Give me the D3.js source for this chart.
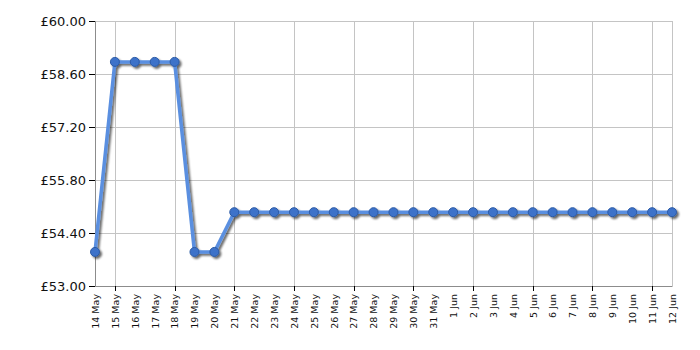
<!DOCTYPE html>
<html>
<head>
<meta charset="utf-8">
<script src="https://cdn.jsdelivr.net/npm/d3@7"></script>
<style>
  body { margin: 0; background: #fff; }
  text { font-family: Verdana, "DejaVu Sans", sans-serif; }
</style>
</head>
<body>
<div id="chart"></div>
<script>
var dates = ["14 May", "15 May", "16 May", "17 May", "18 May", "19 May", "20 May", "21 May",
  "22 May", "23 May", "24 May", "25 May", "26 May", "27 May", "28 May", "29 May", "30 May",
  "31 May", "1 Jun", "2 Jun", "3 Jun", "4 Jun", "5 Jun", "6 Jun", "7 Jun", "8 Jun", "9 Jun",
  "10 Jun", "11 Jun", "12 Jun"];
var prices = [53.90, 58.92, 58.92, 58.92, 58.92, 53.90, 53.90, 54.95,
  54.95, 54.95, 54.95, 54.95, 54.95, 54.95, 54.95, 54.95, 54.95,
  54.95, 54.95, 54.95, 54.95, 54.95, 54.95, 54.95, 54.95, 54.95, 54.95,
  54.95, 54.95, 54.95];
var yTicks = [53.00, 54.40, 55.80, 57.20, 58.60, 60.00];
// every third day gets a tick and a grid line
var gridDates = dates.filter(function(d, i) { return i % 3 === 1; });

var svgWidth = 700;
var svgHeight = 350;
var margin = { top: 21, right: 28, bottom: 64, left: 95 };
var width = svgWidth - margin.left - margin.right;
var height = svgHeight - margin.top - margin.bottom;

var svg = d3.select("#chart")
  .append("svg")
  .attr("width", svgWidth)
  .attr("height", svgHeight);

var defs = svg.append("defs");
var filter = defs.append("filter")
  .attr("id", "shadow")
  .attr("x", "-10%").attr("y", "-10%")
  .attr("width", "120%").attr("height", "120%");
filter.append("feOffset").attr("in", "SourceAlpha").attr("dx", 2).attr("dy", 2).attr("result", "off");
filter.append("feGaussianBlur").attr("in", "off").attr("stdDeviation", 0.9).attr("result", "blur");
filter.append("feComponentTransfer").attr("in", "blur").attr("result", "shade")
  .append("feFuncA").attr("type", "linear").attr("slope", 0.6);
var merge = filter.append("feMerge");
merge.append("feMergeNode").attr("in", "shade");
merge.append("feMergeNode").attr("in", "SourceGraphic");

var chartGroup = svg.append("g")
  .attr("transform", `translate(${margin.left}, ${margin.top})`);

var xScale = d3.scalePoint()
  .domain(dates)
  .range([0, width]);

var yScale = d3.scaleLinear()
  .domain([53, 60])
  .range([height, 0]);

// grid
chartGroup.append("g")
  .selectAll("line")
  .data(yTicks)
  .enter()
  .append("line")
  .attr("x1", 0)
  .attr("x2", width)
  .attr("y1", d => yScale(d) + 0.5)
  .attr("y2", d => yScale(d) + 0.5)
  .attr("stroke", "#c4c4c4");

chartGroup.append("g")
  .selectAll("line")
  .data(gridDates.concat([dates[dates.length - 1]]))
  .enter()
  .append("line")
  .attr("x1", d => Math.round(xScale(d)) + 0.5)
  .attr("x2", d => Math.round(xScale(d)) + 0.5)
  .attr("y1", 0)
  .attr("y2", height)
  .attr("stroke", "#c4c4c4");

// axes
var leftAxis = d3.axisLeft(yScale)
  .tickValues(yTicks)
  .tickSize(6)
  .tickFormat(d => "£" + d3.format(".2f")(d));

var yAxis = chartGroup.append("g")
  .call(leftAxis);
yAxis.select(".domain").attr("stroke", "#8c8c8c");
yAxis.selectAll(".tick line").attr("stroke", "#000");
yAxis.selectAll(".tick text")
  .attr("font-size", 13)
  .attr("fill", "#111")
  .attr("font-family", "Verdana, 'DejaVu Sans', sans-serif");

var bottomAxis = d3.axisBottom(xScale)
  .tickSize(0)
  .tickPadding(0);

var xAxis = chartGroup.append("g")
  .attr("transform", `translate(0, ${height})`)
  .call(bottomAxis);
xAxis.select(".domain").attr("stroke", "#8c8c8c");
xAxis.selectAll(".tick text")
  .attr("font-size", 9.5)
  .attr("fill", "#111")
  .attr("font-family", "Verdana, 'DejaVu Sans', sans-serif")
  .attr("text-anchor", "end")
  .attr("dy", "0.35em")
  .attr("transform", "translate(0, 8) rotate(-90)")
  .attr("x", 0)
  .attr("y", 0);

xAxis.append("g")
  .selectAll("line")
  .data(gridDates)
  .enter()
  .append("line")
  .attr("x1", d => Math.round(xScale(d)) + 0.5)
  .attr("x2", d => Math.round(xScale(d)) + 0.5)
  .attr("y1", 0)
  .attr("y2", 5)
  .attr("stroke", "#000");

// price line
var series = dates.map((d, i) => ({ date: d, price: prices[i] }));

var line = d3.line()
  .x(d => xScale(d.date))
  .y(d => yScale(d.price));

var seriesGroup = chartGroup.append("g")
  .attr("filter", "url(#shadow)");

seriesGroup.append("path")
  .datum(series)
  .attr("d", line)
  .attr("fill", "none")
  .attr("stroke", "#5a8fe0")
  .attr("stroke-width", 3.5)
  .attr("stroke-linejoin", "round");

seriesGroup.selectAll("circle")
  .data(series)
  .enter()
  .append("circle")
  .attr("cx", d => xScale(d.date))
  .attr("cy", d => yScale(d.price))
  .attr("r", 4.5)
  .attr("fill", "#3d72c9")
  .attr("stroke", "#2b5aa5")
  .attr("stroke-width", 1);
</script>
</body>
</html>
